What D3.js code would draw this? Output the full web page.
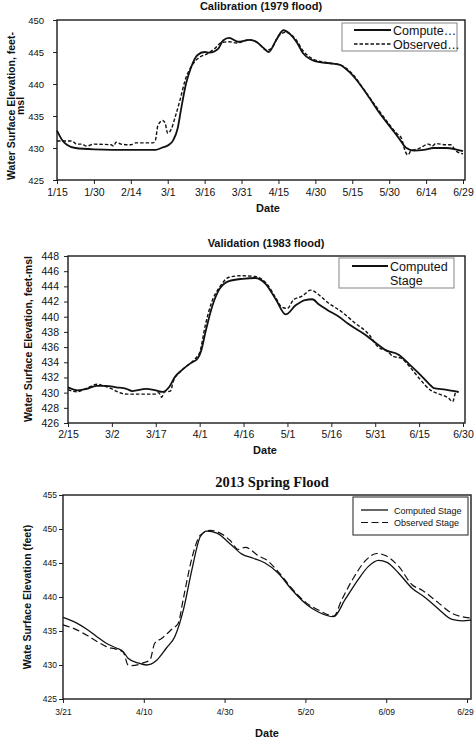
<!DOCTYPE html>
<html><head><meta charset="utf-8">
<script src="https://cdn.jsdelivr.net/npm/d3@7"></script>
<style>body{margin:0;background:#fff}svg{display:block}</style>
</head><body>
<svg id="c" width="474" height="738"></svg>
<script>
// ---------- Panel 1: Calibration (1979 flood), x = days since 1/15 ----------
const calTickLabels = ["1/15","1/30","2/14","3/1","3/16","3/31","4/15","4/30","5/15","5/30","6/14","6/29"];
const calTickDays = [0,15,30,45,60,75,90,105,120,135,150,165];
const calYTicks = [425,430,435,440,445,450];
const calCompDays = [0,2,4,7.5,15,30,40,43,45.5,47.2,49,50.4,52.4,54.4,57,60,62,65.5,67.5,70,73.5,78.4,81,84,86,89,92,94.7,97.5,100,103.4,106.8,112,115,119,123,127,131,135,139,142,145,149,153,158,162,165];
const calCompVals = [432.7,431.3,430.5,430.0,429.8,429.7,429.7,430.1,430.5,431.2,433,436,440,442.5,444.5,445.0,444.9,445.5,446.8,447.2,446.6,446.9,446.6,445.6,445.0,446.8,448.4,447.8,446.5,444.8,443.8,443.4,443.2,443.0,441.8,440.0,437.8,435.5,433.5,431.5,430,429.6,429.7,430.0,430.0,429.8,429.5];
const calObsDays = [0,6,8,10,12,15,22,23,24,26,30,32,39,40,41,43,44,45,46.5,48,50,52,55,58,61,64,67,70,73,78,82,85,87,90,93,97,100,104,110,115,120,125,130,135,138,140,141.5,142.5,144,147,151,152.5,154,158,160,162,165];
const calObsVals = [431.1,431.1,430.6,430.6,430.3,430.6,430.5,430.3,430.9,430.6,430.5,430.8,430.8,431.2,433.5,434.3,433.8,432.3,433.0,434.8,437.5,440.5,443.0,444.2,444.7,445.5,446.5,446.6,446.4,446.9,446.3,445.3,445.5,447.5,448.1,447.0,445.2,443.9,443.3,443.0,441.6,439.0,436.3,433.7,432.3,431.5,429.5,428.9,429.6,429.9,430.6,430.3,430.7,430.5,430.5,429.6,429.1];

// ---------- Panel 2: Validation (1983 flood), x = days since 2/15 ----------
const valTickLabels = ["2/15","3/2","3/17","4/1","4/16","5/1","5/16","5/31","6/15","6/30"];
const valTickDays = [0,15,30,45,60,75,90,105,120,135];
const valYTicks = [426,428,430,432,434,436,438,440,442,444,446,448];
const valCompDays = [0,3.4,6.5,9.7,13,16.5,20,22,26.7,30,32.4,33.5,34.7,36.4,39,42,44.3,45.5,47,49.4,51.7,55,59.7,64,67.6,71,74.4,77.8,81,83.5,85.8,88.6,92.6,96,101.7,105,108.5,113,116.5,120,123.3,125,129,133.5];
const valCompVals = [430.7,430.3,430.5,430.9,430.9,430.7,430.5,430.2,430.5,430.3,430.1,430.3,430.8,432.0,433.0,433.9,434.5,435.5,438.0,441.5,443.6,444.7,445.0,445.1,444.3,442.3,440.3,441.5,442.2,442.3,441.6,440.9,440.0,439.0,437.6,436.6,435.6,435.0,433.8,432.5,431.2,430.6,430.4,430.1];
const valObsDays = [0,3,6,10,12,15,17,20,23,30,31,32,33,35,36,39,43,45,47,49,52,55,59,64,68,71,73,75,77,80,83,86,89,93,98,103,106,109,111,114,117,120,124,127,130,131.5,132.5,133.5];
const valObsVals = [430.4,430.1,430.5,431.1,430.9,430.5,430.1,429.8,429.8,429.8,430.0,429.4,430.1,430.2,431.5,433.0,434.3,435.3,439.0,441.8,444.0,445.2,445.4,445.3,444.3,442.5,441.3,441.1,442.2,442.7,443.5,442.8,441.8,440.8,439.2,437.6,436.0,435.5,434.8,434.5,433.3,431.9,430.3,429.8,429.3,428.8,430.0,430.1];

// ---------- Panel 3: 2013 Spring Flood, x = days since 3/21 ----------
const sprTickLabels = ["3/21","4/10","4/30","5/20","6/09","6/29"];
const sprTickDays = [0,20,40,60,80,100];
const sprYTicks = [425,430,435,440,445,450,455];
const sprCompDays = [0,3.3,5.8,8.3,10.7,13.2,15,16.1,18.6,20.7,23.2,25.6,27.7,29.8,31.9,34,35.6,38.1,41.4,44.3,47.1,50,53.3,56.6,60.3,63.2,67,69.8,73.1,75.6,78.1,80.2,83.1,86.4,89.7,93,96.3,98.8,101];
const sprCompVals = [437.0,436.2,435.3,434.2,433.2,432.5,431.9,431.0,430.3,430.0,430.7,432.5,434.2,438.1,444.0,448.9,449.7,449.4,447.8,446.3,445.7,445.0,443.5,441.1,438.9,437.8,437.1,439.6,442.6,444.5,445.4,445.1,443.5,441.3,439.9,438.2,436.7,436.5,436.6];
const sprObsDays = [0,3.3,5.8,8.3,10.7,13.2,14.9,16.1,17,20.3,21.5,22.7,24.4,27.2,28.5,29.8,31.9,34,36.5,38.1,41.4,43.4,45.1,48.8,50,53.3,56.6,60.3,63.2,67,69,71.9,74.8,77.7,79.8,83.1,86.4,88.9,93,96.3,99.6,101];
const sprObsVals = [435.9,435.2,434.4,433.5,432.7,432.3,431.9,430.0,429.9,430.4,430.7,433.2,433.9,435.4,436.1,439.8,445.7,449.1,449.8,449.6,448.3,447.0,447.3,445.9,445.6,443.7,441.3,439.1,438.1,437.2,439.6,442.8,445.3,446.4,446.1,444.5,441.8,441.0,439.1,437.6,437.0,436.9];

const svg = d3.select("#c");
const SANS = "'Liberation Sans', Arial, sans-serif";

function panel(o) {
  const x = d3.scaleLinear().domain(o.xDomain).range([o.left, o.right]);
  const y = d3.scaleLinear().domain(o.yDomain).range([o.bottom, o.top]);
  const g = svg.append("g");

  g.append("text").attr("x", o.titleX).attr("y", o.titleY).attr("text-anchor", "middle")
    .attr("font-family", o.titleFont).attr("font-weight", "bold").attr("font-size", o.titleSize)
    .attr("fill", "#111").text(o.title);

  const ya = g.append("g").attr("transform", `translate(${o.left},0)`)
    .call(d3.axisLeft(y).tickValues(o.yTicks).tickSize(4).tickPadding(o.yPad).tickFormat(d3.format("d")));
  const xa = g.append("g").attr("transform", `translate(0,${o.bottom})`)
    .call(d3.axisBottom(x).tickValues(o.xTickDays).tickSize(4).tickPadding(o.xPad)
      .tickFormat((d, i) => o.xTickLabels[i]));
  [ya, xa].forEach(a => {
    a.select(".domain").remove();
    a.selectAll("line").attr("stroke", "#222").attr("stroke-width", 1);
    a.selectAll("text").attr("font-family", SANS).attr("fill", "#111");
  });
  ya.selectAll("text").attr("font-size", o.yTickSize);
  xa.selectAll("text").attr("font-size", o.xTickSize);
  if (o.lastDx) xa.selectAll(".tick:last-of-type text").attr("dx", o.lastDx);

  g.append("rect").attr("x", o.left).attr("y", o.top)
    .attr("width", o.right - o.left + o.frameExtra).attr("height", o.bottom - o.top)
    .attr("fill", "none").attr("stroke", "#1a1a1a").attr("stroke-width", 1.4);

  const line = d3.line().x(d => x(d[0])).y(d => y(d[1])).curve(d3.curveMonotoneX);
  const comp = o.compDays.map((d, i) => [d, o.compVals[i]]);
  const obs = o.obsDays.map((d, i) => [d, o.obsVals[i]]);
  g.append("path").attr("d", line(obs)).attr("fill", "none").attr("stroke", "#111")
    .attr("stroke-width", o.obsW).attr("stroke-dasharray", o.dash);
  g.append("path").attr("d", line(comp)).attr("fill", "none").attr("stroke", "#111")
    .attr("stroke-width", o.compW);

  g.append("text").attr("x", o.xTitleX).attr("y", o.xTitleY).attr("text-anchor", "middle")
    .attr("font-family", SANS).attr("font-weight", "bold").attr("font-size", 11).attr("fill", "#111").text("Date");
  o.yTitle.forEach((t, i) => {
    g.append("text").attr("transform", `translate(${o.yTitleX[i]},${o.yTitleY}) rotate(-90)`)
      .attr("text-anchor", "middle").attr("font-family", SANS).attr("font-weight", "bold")
      .attr("font-size", o.yTitleSize).attr("fill", "#111").text(t);
  });

  const L = o.legend;
  g.append("rect").attr("x", L.x).attr("y", L.y).attr("width", L.w).attr("height", L.h)
    .attr("fill", "#fff").attr("stroke", L.stroke).attr("stroke-width", 1.2);
  L.rows.forEach(r => {
    if (r.line) {
      g.append("line").attr("x1", L.lx1).attr("x2", L.lx2).attr("y1", r.ly).attr("y2", r.ly)
        .attr("stroke", "#111").attr("stroke-width", r.dash ? o.obsW : o.compW)
        .attr("stroke-dasharray", r.dash ? o.dash : null);
    }
    g.append("text").attr("x", L.tx).attr("y", r.ty).attr("font-family", SANS)
      .attr("font-size", L.fs).attr("fill", "#111").text(r.text);
  });
}

panel({
  title: "Calibration (1979 flood)", titleX: 261, titleY: 10, titleFont: SANS, titleSize: 11,
  left: 57, right: 463, top: 20, bottom: 180, frameExtra: 2,
  xDomain: [0, 165], yDomain: [425, 450], yTicks: calYTicks,
  xTickDays: calTickDays, xTickLabels: calTickLabels, yTickSize: 9.5, xTickSize: 10.5, yPad: 9, xPad: 5,
  compDays: calCompDays, compVals: calCompVals, obsDays: calObsDays, obsVals: calObsVals,
  compW: 1.8, obsW: 1.4, dash: "3.5,2",
  xTitleX: 268, xTitleY: 212,
  yTitle: ["Water Surface Elevation, feet-", "msl"], yTitleX: [14.5, 23.5], yTitleY: 106, yTitleSize: 10.5,
  legend: { x: 342, y: 23, w: 115, h: 28, stroke: "#999", lx1: 354, lx2: 391, tx: 393, fs: 12.5,
    rows: [{ line: true, dash: false, ly: 30, ty: 35, text: "Compute…" },
           { line: true, dash: true, ly: 44, ty: 48.5, text: "Observed…" }] }
});

panel({
  title: "Validation (1983 flood)", titleX: 266, titleY: 247, titleFont: SANS, titleSize: 11,
  left: 68, right: 463, top: 256, bottom: 423, frameExtra: 2,
  xDomain: [0, 135], yDomain: [426, 448], yTicks: valYTicks,
  xTickDays: valTickDays, xTickLabels: valTickLabels, yTickSize: 10.5, xTickSize: 10.5, yPad: 5, xPad: 4,
  compDays: valCompDays, compVals: valCompVals, obsDays: valObsDays, obsVals: valObsVals,
  compW: 1.8, obsW: 1.4, dash: "3.5,2",
  xTitleX: 265, xTitleY: 454,
  yTitle: ["Water Surface Elevation, feet-msl"], yTitleX: [31.5], yTitleY: 339, yTitleSize: 10.5,
  legend: { x: 339, y: 258, w: 115, h: 30, stroke: "#999", lx1: 352, lx2: 388, tx: 390, fs: 12.5,
    rows: [{ line: true, dash: false, ly: 266, ty: 271, text: "Computed" },
           { line: false, ty: 284.5, text: "Stage" }] }
});

panel({
  title: "2013 Spring Flood", titleX: 272, titleY: 487, titleFont: "'Liberation Serif', 'Times New Roman', serif", titleSize: 14.5,
  left: 63, right: 467, top: 495, bottom: 699, frameExtra: 4,
  xDomain: [0, 100], yDomain: [425, 455], yTicks: sprYTicks,
  xTickDays: sprTickDays, xTickLabels: sprTickLabels, yTickSize: 8.5, xTickSize: 8.5, yPad: 2, xPad: 6, lastDx: -2,
  compDays: sprCompDays, compVals: sprCompVals, obsDays: sprObsDays, obsVals: sprObsVals,
  compW: 1.3, obsW: 1.2, dash: "7,3.5",
  xTitleX: 267, xTitleY: 737,
  yTitle: ["Wate Surface Elevation (feet)"], yTitleX: [31], yTitleY: 597, yTitleSize: 10.5,
  legend: { x: 353, y: 497, w: 115, h: 38, stroke: "#444", lx1: 361, lx2: 388, tx: 394, fs: 9,
    rows: [{ line: true, dash: false, ly: 510, ty: 513.5, text: "Computed Stage" },
           { line: true, dash: true, ly: 522.5, ty: 526, text: "Observed Stage" }] }
});
</script>
</body></html>
